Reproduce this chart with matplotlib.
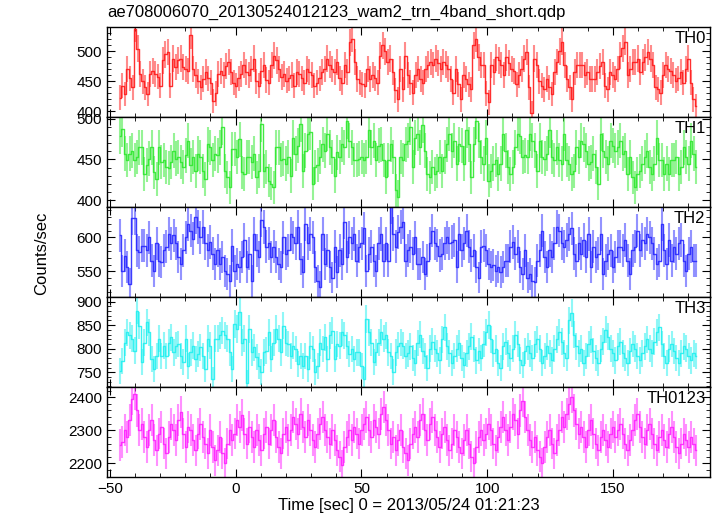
import numpy as np
import matplotlib
matplotlib.use("Agg")
import matplotlib.pyplot as plt
from matplotlib.ticker import MultipleLocator

plt.rcParams['font.family'] = ['Liberation Sans', 'DejaVu Sans']

# ---- datos (cuentas/seg, bins de ~1 s) ----
t_inicio = -46
t_fin = 183

th0 = [423, 443, 429, 471, 455, 440, 538, 504, 462, 450,
       440, 429, 462, 468, 462, 458, 443, 485, 495, 499,
       443, 488, 474, 485, 488, 474, 470, 468, 527, 471,
       460, 450, 440, 454, 465, 455, 448, 417, 430, 462,
       468, 460, 475, 482, 465, 448, 443, 455, 462, 477,
       465, 460, 471, 488, 450, 443, 468, 477, 452, 448,
       477, 493, 485, 470, 457, 462, 451, 455, 460, 443,
       465, 462, 455, 448, 471, 465, 460, 443, 448, 455,
       465, 471, 488, 478, 471, 465, 482, 455, 448, 477,
       465, 515, 521, 482, 454, 448, 445, 443, 471, 454,
       460, 455, 448, 493, 510, 500, 482, 488, 465, 435, 420,
       470, 437, 493, 460, 448, 431, 460, 471, 454, 448,
       471, 478, 482, 477, 488, 480, 471, 482, 478, 470,
       454, 431, 471, 445, 420, 460, 454, 445, 437, 510,
       521, 490, 477, 477, 430, 415, 477, 465, 490, 485,
       477, 460, 490, 480, 471, 468, 445, 460, 471, 488,
       499, 440, 398, 488, 477, 450, 443, 437, 454, 440,
       429, 465, 482, 500, 516, 477, 454, 440, 420, 465,
       477, 477, 477, 460, 465, 454, 454, 454, 465, 475,
       482, 443, 437, 465, 460, 454, 471, 493, 505, 516,
       460, 471, 482, 482, 488, 465, 482, 490, 499, 488,
       477, 440, 437, 431, 460, 477, 470, 468, 460, 451,
       455, 465, 448, 470, 488, 448, 420, 409]

th1 = [479, 488, 457, 449, 457, 461, 449, 453, 465, 465,
       432, 443, 451, 465, 434, 426, 465, 447, 449, 441,
       439, 447, 461, 451, 453, 447, 441, 455, 473, 443,
       453, 436, 457, 453, 436, 426, 469, 465, 449, 457,
       455, 465, 490, 436, 428, 416, 463, 463, 453, 475,
       434, 432, 453, 453, 447, 457, 428, 436, 494, 436,
       441, 424, 420, 416, 465, 465, 449, 451, 445, 453,
       430, 477, 457, 467, 494, 436, 461, 482, 484, 420,
       441, 443, 453, 469, 461, 482, 465, 453, 430, 459,
       453, 469, 465, 498, 473, 465, 449, 449, 451, 453,
       449, 453, 486, 465, 473, 449, 467, 469, 449, 428,
       449, 469, 453, 412, 404, 453, 449, 469,
       473, 490, 441, 477, 482, 465, 492, 461, 432, 428,
       441, 432, 436, 453, 436, 453, 469, 482, 461, 473,
       445, 469, 467, 445, 486, 469, 428, 469, 498, 473,
       453, 445, 477, 424, 436, 445, 449, 432, 445, 482,
       461, 441, 432, 441, 465, 482, 479, 453, 455, 453,
       482, 473, 461, 436, 473, 453, 451, 457, 486, 453,
       449, 465, 449, 445, 482, 449, 445, 432, 436, 465,
       453, 473, 469, 461, 445, 447, 457, 441, 420, 482,
       461, 453, 445, 473, 467, 461, 465, 473, 457, 461,
       432, 453, 428, 416, 432, 436, 445, 453, 461, 441,
       432, 445, 477, 449, 449, 432, 445, 432, 449, 449,
       453, 432, 441, 465, 453, 445, 473, 457, 441]

th2 = [603, 551, 573, 556, 532, 628, 628, 581, 578, 588,
       588, 581, 600, 566, 551, 591, 566, 564, 581, 586,
       605, 591, 603, 591, 571, 561, 581, 600, 620, 610,
       598, 630, 615, 600, 615, 591, 581, 593, 576, 561,
       581, 561, 571, 551, 546, 536, 588, 551, 561, 556,
       571, 596, 556, 576, 536, 605, 581, 571, 625, 615,
       586, 591, 571, 586, 571, 561, 556, 600, 576, 581,
       605, 600, 591, 615, 568, 549, 620, 591, 605, 600,
       556, 536, 527, 605, 561, 581, 556, 541, 586, 549,
       581, 561, 623, 571, 600, 591, 605, 566, 586, 591,
       613, 551, 576, 586, 566, 551, 591, 605, 566, 591,
       566, 645, 605, 586, 608, 615, 623, 566,
       581, 586, 576, 600, 561, 561, 571, 546, 566, 591,
       610, 591, 588, 573, 576, 591, 600, 591, 593, 596,
       556, 605, 581, 591, 610, 586, 573, 581, 556, 541,
       586, 588, 581, 561, 556, 559, 551, 556, 549, 556,
       566, 566, 586, 593, 576, 586, 556, 546, 581, 541,
       546, 536, 534, 566, 581, 610, 571, 556, 581, 571,
       591, 615, 610, 591, 586, 596, 605, 613, 576, 566,
       591, 576, 596, 571, 605, 556, 586, 571, 576, 605,
       546, 566, 576, 581, 556, 571, 586, 586, 581, 596,
       566, 546, 581, 586, 610, 581, 596, 591, 605, 600,
       591, 576, 561, 566, 620, 581, 561, 596, 566, 586,
       576, 591, 596, 566, 551, 576, 586, 566, 566]

th3 = [753, 774, 813, 835, 828, 821, 796, 881, 849, 771,
       813, 856, 835, 778, 757, 785, 821, 785, 806, 785,
       813, 824, 792, 806, 810, 785, 771, 821, 764, 792,
       806, 778, 789, 803, 785, 757, 821, 806, 735, 821,
       821, 828, 838, 828, 821, 792, 757, 852, 842, 877,
       813, 821, 728, 842, 792, 803, 782, 764, 750, 792,
       796, 835, 778, 813, 842, 821, 792, 849, 813, 810,
       785, 806, 799, 767, 785, 764, 785, 757, 806, 799,
       750, 764, 813, 799, 824, 778, 828, 838, 778, 810,
       806, 835, 828, 806, 789, 799, 778, 792, 792, 764,
       735, 863, 835, 813, 771, 792, 813, 835, 821, 828,
       792, 785, 750, 792, 806, 813, 806, 785,
       790, 805, 780, 770, 812, 830, 795, 785, 760, 800,
       815, 800, 790, 775, 820, 845, 805, 790, 770, 785,
       800, 812, 780, 765, 790, 805, 825, 800, 775, 795,
       780, 810, 835, 850, 820, 790, 800, 770, 760, 805,
       815, 790, 780, 800, 830, 810, 775, 765, 795, 805,
       790, 780, 810, 820, 800, 770, 785, 805, 790, 775,
       800, 820, 835, 815, 790, 780, 860, 875, 830, 805,
       790, 800, 770, 785, 810, 820, 795, 780, 770, 800,
       815, 840, 825, 800, 790, 775, 805, 815, 790, 780,
       770, 795, 810, 800, 785, 775, 790, 805, 820, 800,
       790, 815, 835, 845, 810, 785, 770, 800, 810, 795,
       780, 770, 790, 805, 800, 785, 775, 790, 785]

th0123 = [2255, 2265, 2300, 2280, 2330, 2395, 2410, 2360, 2300, 2320,
          2280, 2250, 2300, 2330, 2270, 2240, 2290, 2310, 2260, 2230,
          2280, 2320, 2300, 2270, 2330, 2355, 2290, 2250, 2310, 2300,
          2270, 2240, 2290, 2320, 2280, 2260, 2230, 2300, 2250, 2210,
          2240, 2280, 2230, 2200, 2260, 2300, 2270, 2290, 2330, 2310,
          2345, 2290, 2260, 2310, 2280, 2250, 2300, 2270, 2240, 2290,
          2310, 2260, 2300, 2330, 2280, 2250, 2230, 2290, 2310, 2270,
          2300, 2340, 2320, 2290, 2350, 2310, 2280, 2330, 2300, 2270,
          2250, 2290, 2320, 2340, 2300, 2280, 2260, 2300, 2270, 2240,
          2220, 2195, 2250, 2280, 2300, 2270, 2310, 2290, 2260, 2300,
          2320, 2340, 2300, 2280, 2330, 2310, 2290, 2350, 2370, 2330,
          2300, 2260, 2280, 2240, 2270, 2300, 2250, 2230, 2210, 2260,
          2290, 2310, 2280, 2330, 2350, 2300, 2270, 2320, 2340, 2300,
          2280, 2250, 2290, 2310, 2270, 2240, 2260, 2300, 2280, 2250,
          2230, 2270, 2300, 2260, 2220, 2200, 2250, 2280, 2300, 2270,
          2290, 2320, 2300, 2260, 2240, 2280, 2310, 2340, 2300, 2270,
          2310, 2350, 2330, 2290, 2360, 2390, 2340, 2300, 2270, 2250,
          2280, 2240, 2220, 2200, 2250, 2280, 2300, 2260, 2230, 2270,
          2300, 2340, 2310, 2350, 2380, 2400, 2360, 2320, 2290, 2310,
          2280, 2250, 2300, 2330, 2290, 2260, 2240, 2280, 2300, 2270,
          2250, 2290, 2310, 2280, 2300, 2320, 2290, 2260, 2240, 2270,
          2300, 2330, 2350, 2310, 2280, 2260, 2300, 2320, 2290, 2260,
          2240, 2280, 2300, 2270, 2250, 2290, 2310, 2280, 2250, 2230,
          2260, 2290, 2270, 2250, 2280, 2260, 2240]

nombres = ['TH0', 'TH1', 'TH2', 'TH3', 'TH0123']
series = [th0, th1, th2, th3, th0123]
colores = ['#ff1a1a', '#2ee82e', '#2828ff', '#22f0f0', '#ff22ff']
limitesY = [(390, 540), (391, 502), (512, 644), (718, 909), (2158, 2430)]
ticksY = [(50, 10), (50, 10), (50, 10), (50, 10), (100, 20)]

titulo = 'ae708006070_20130524012123_wam2_trn_4band_short.qdp'


def graficarPanel(ax, valores, color, nombre, ylim, ticks):
    v = np.asarray(valores, dtype=float)
    t = np.linspace(t_inicio, t_fin, len(v))
    err = np.sqrt(v)  # error poisson, bin de 1 s
    ax.errorbar(t, v, yerr=err, fmt='none', ecolor=color, elinewidth=1.5, alpha=0.5)
    ax.step(t, v, where='mid', color=color, linewidth=1.0, alpha=0.9)
    ax.set_ylim(*ylim)
    ax.set_xlim(-51.2, 188.5)
    ax.yaxis.set_major_locator(MultipleLocator(ticks[0]))
    ax.yaxis.set_minor_locator(MultipleLocator(ticks[1]))
    ax.xaxis.set_major_locator(MultipleLocator(50))
    ax.xaxis.set_minor_locator(MultipleLocator(10))
    ax.tick_params(which='both', direction='in', top=True, right=True, labelsize=11)
    ax.tick_params(which='major', length=6)
    ax.tick_params(which='minor', length=3)
    ax.text(0.993, 0.96, nombre, transform=ax.transAxes, ha='right', va='top', fontsize=12)
    for s in ax.spines.values():
        s.set_linewidth(1.0)


fig, axes = plt.subplots(5, 1, sharex=True, figsize=(7.17, 5.16), dpi=100)
fig.subplots_adjust(left=0.149, right=0.99, top=0.947, bottom=0.075, hspace=0)

for i in range(5):
    graficarPanel(axes[i], series[i], colores[i], nombres[i], limitesY[i], ticksY[i])
    if i < 4:
        axes[i].tick_params(labelbottom=False)

axes[-1].set_xlabel('Time [sec] 0 = 2013/05/24 01:21:23', fontsize=12, labelpad=1)
fig.text(0.149, 0.962, titulo, ha='left', va='bottom', fontsize=12)
fig.text(0.058, 0.51, 'Counts/sec', rotation=90, ha='center', va='center', fontsize=12)

plt.savefig('out.png', dpi=100)
